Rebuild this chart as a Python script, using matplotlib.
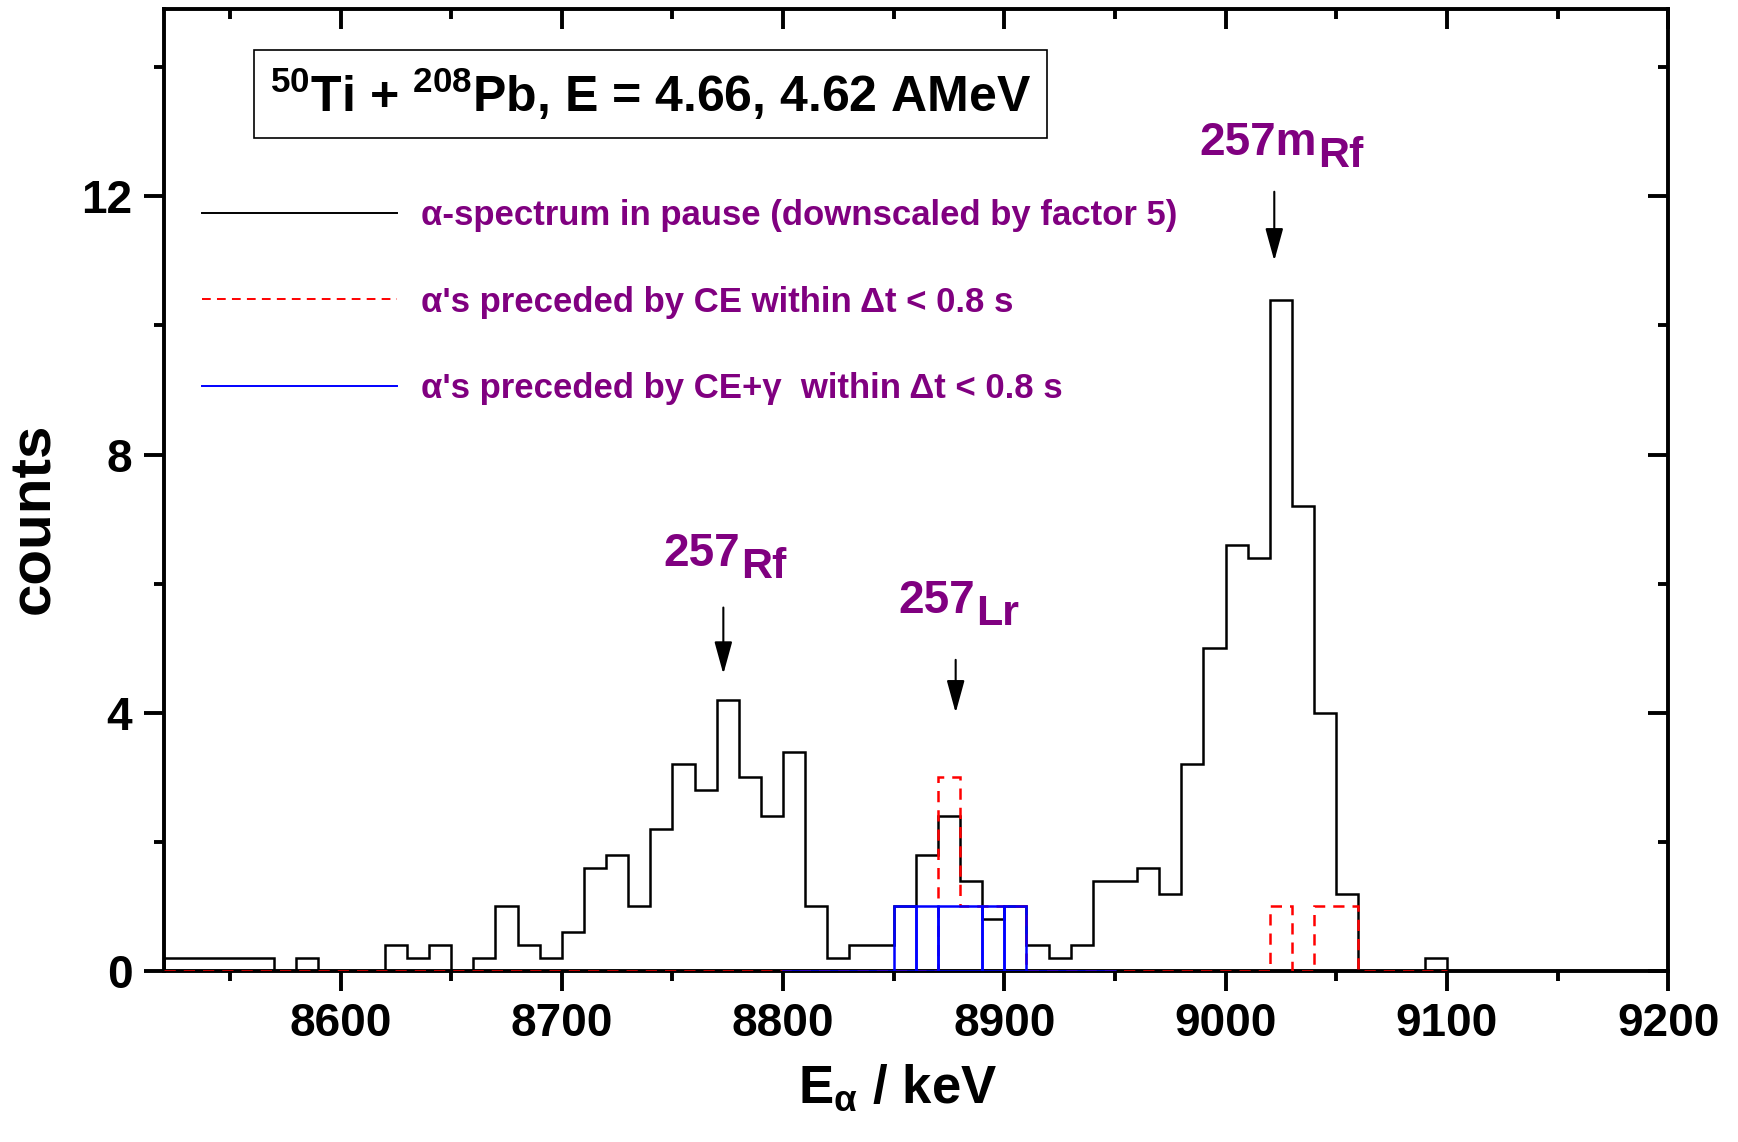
#!/usr/bin/python
""" Alpha spectrum of 50Ti + 208Pb with CE / CE+gamma correlated events """
import matplotlib
matplotlib.use('Agg')
import matplotlib.pyplot as plt
import numpy as np

PURPLE = '#800080'

# alpha spectrum in beam pause, 10 keV bins starting at 8520 keV (downscaled by 5)
E_START = 8520
BIN_WIDTH = 10
PAUSE_COUNTS = [0.2, 0.2, 0.2, 0.2, 0.2, 0.0, 0.2, 0.0, 0.0, 0.0,   # 8520-8610
                0.4, 0.2, 0.4, 0.0, 0.2, 1.0, 0.4, 0.2, 0.6, 1.6,   # 8620-8710
                1.8, 1.0, 2.2, 3.2, 2.8, 4.2, 3.0, 2.4, 3.4, 1.0,   # 8720-8810
                0.2, 0.4, 0.4, 1.0, 1.8, 2.4, 1.4, 0.8, 1.0, 0.4,   # 8820-8910
                0.2, 0.4, 1.4, 1.4, 1.6, 1.2, 3.2, 5.0, 6.6, 6.4,   # 8920-9010
                10.4, 7.2, 4.0, 1.2, 0.0, 0.0, 0.0, 0.2]            # 9020-9090

# alphas preceded by conversion electrons (same binning)
CE_COUNTS = [0.0] * 35 + [3.0, 1.0, 1.0, 1.0] + [0.0] * 11 + [1.0, 0.0, 1.0, 1.0] + [0.0] * 4

# alphas preceded by CE + gamma
CEG_EDGES = [8850, 8860, 8870, 8890, 8900, 8910]
CEG_COUNTS = [1, 1, 1, 1, 1]
CEG_RANGE = [8800, 8950]

LABELS = ['\u03b1-spectrum in pause (downscaled by factor 5)',
          "\u03b1's preceded by CE within \u0394t < 0.8 s",
          "\u03b1's preceded by CE+\u03b3  within \u0394t < 0.8 s"]

# peak annotations: mass number, element, label anchor, arrow x, arrow tip/tail
PEAK_MASS = ['257', '257', '257m']
PEAK_ELEM = ['Rf', 'Lr', 'Rf']
PEAK_TEXT_X = [8746, 8852, 8988]
PEAK_TEXT_Y = [6.28, 5.55, 12.64]
ARROW_X = [8773, 8878, 9022]
ARROW_TIP = [4.6, 4.0, 11.0]
ARROW_TAIL = [5.63, 4.82, 12.07]

plt.rcParams['font.family'] = ['Liberation Sans', 'DejaVu Sans']
plt.rcParams['font.weight'] = 'bold'
plt.rcParams['axes.labelweight'] = 'bold'
plt.rcParams['mathtext.fontset'] = 'custom'
plt.rcParams['mathtext.rm'] = 'Liberation Sans:bold'
plt.rcParams['mathtext.default'] = 'rm'

LW = 1.8
DASH = (0, (4.5, 3.2))


def draw_spectrum():
    """ draw the three spectra with annotations """
    fig = plt.figure(figsize=(17.38, 11.42), dpi=100)
    ax = fig.add_axes([0.0941, 0.1497, 0.8657, 0.8424])

    edges = E_START + BIN_WIDTH * np.arange(len(PAUSE_COUNTS) + 1)

    ax.stairs(PAUSE_COUNTS, edges, color='black', lw=LW, baseline=0,
              zorder=2)
    ax.stairs(CE_COUNTS, edges, color='red', lw=LW, baseline=0,
              linestyle=DASH, zorder=3)
    ax.plot(CEG_RANGE, [0, 0], color='blue', lw=LW, zorder=4)
    for i, cnt in enumerate(CEG_COUNTS):
        ax.stairs([cnt], CEG_EDGES[i:i + 2], color='blue', lw=LW,
                  baseline=0, zorder=4)

    # legend
    handles = [plt.Line2D([], [], color='black', lw=1.4),
               plt.Line2D([], [], color='red', lw=1.4, linestyle=DASH),
               plt.Line2D([], [], color='blue', lw=1.4)]
    ax.legend(handles, LABELS, loc='upper left', bbox_to_anchor=(0.0096, 0.828),
              frameon=False, fontsize=25, labelcolor=PURPLE,
              handlelength=5.6, handletextpad=0.7, labelspacing=1.55,
              borderaxespad=0.3)

    ax.text(0.0705, 0.893,
            '$^{50}$Ti + $^{208}$Pb, E = 4.66, 4.62 AMeV',
            transform=ax.transAxes, fontsize=36, ha='left', va='baseline',
            bbox=dict(boxstyle='square,pad=0.32', fc='white', ec='black',
                      lw=1.2))

    for mass, elem, tx, ty in zip(PEAK_MASS, PEAK_ELEM, PEAK_TEXT_X,
                                  PEAK_TEXT_Y):
        t_mass = ax.text(tx, ty, mass, fontsize=33, color=PURPLE,
                         ha='left', va='baseline')
        ax.annotate(elem, xy=(1, 0), xycoords=t_mass, xytext=(1, -8),
                    textcoords='offset points', fontsize=31, color=PURPLE,
                    ha='left', va='bottom')

    for ax_x, tip, tail in zip(ARROW_X, ARROW_TIP, ARROW_TAIL):
        ax.annotate('', xy=(ax_x, tip), xytext=(ax_x, tail),
                    arrowprops=dict(arrowstyle='-|>,head_length=0.8,'
                                    'head_width=0.22',
                                    color='black', lw=1.5,
                                    mutation_scale=25, shrinkA=0,
                                    shrinkB=0))

    ax.set_xlim(8520, 9200)
    ax.set_ylim(0, 14.9)
    ax.set_xticks(np.arange(8600, 9201, 100))
    ax.set_xticks(np.arange(8550, 9200, 50), minor=True)
    ax.set_yticks([0, 4, 8, 12])
    ax.set_yticks([2, 6, 10, 14], minor=True)

    for spine in ax.spines.values():
        spine.set_linewidth(2.8)
    ax.tick_params(which='major', direction='out', length=14.5, width=2.8,
                   labelsize=33, pad=8)
    ax.tick_params(which='minor', direction='out', length=7.5, width=2.8)

    top = ax.secondary_xaxis('top')
    top.set_xticks(np.arange(8600, 9201, 100))
    top.set_xticks(np.arange(8550, 9200, 50), minor=True)
    top.tick_params(which='major', direction='in', length=14.5, width=2.8,
                    labeltop=False)
    top.tick_params(which='minor', direction='in', length=7.5, width=2.8)
    right = ax.secondary_yaxis('right')
    right.set_yticks([0, 4, 8, 12])
    right.set_yticks([2, 6, 10, 14], minor=True)
    right.tick_params(which='major', direction='in', length=14.5, width=2.8,
                      labelright=False)
    right.tick_params(which='minor', direction='in', length=7.5, width=2.8)

    ax.set_xlabel('E$_{\\alpha}$ / keV', fontsize=38, labelpad=12)
    ax.xaxis.label.set_x(0.488)
    ax.set_ylabel('counts', fontsize=42)
    ax.yaxis.set_label_coords(-0.068, 0.471)

    fig.savefig('out.png', dpi=100)


if __name__ == '__main__':
    draw_spectrum()
